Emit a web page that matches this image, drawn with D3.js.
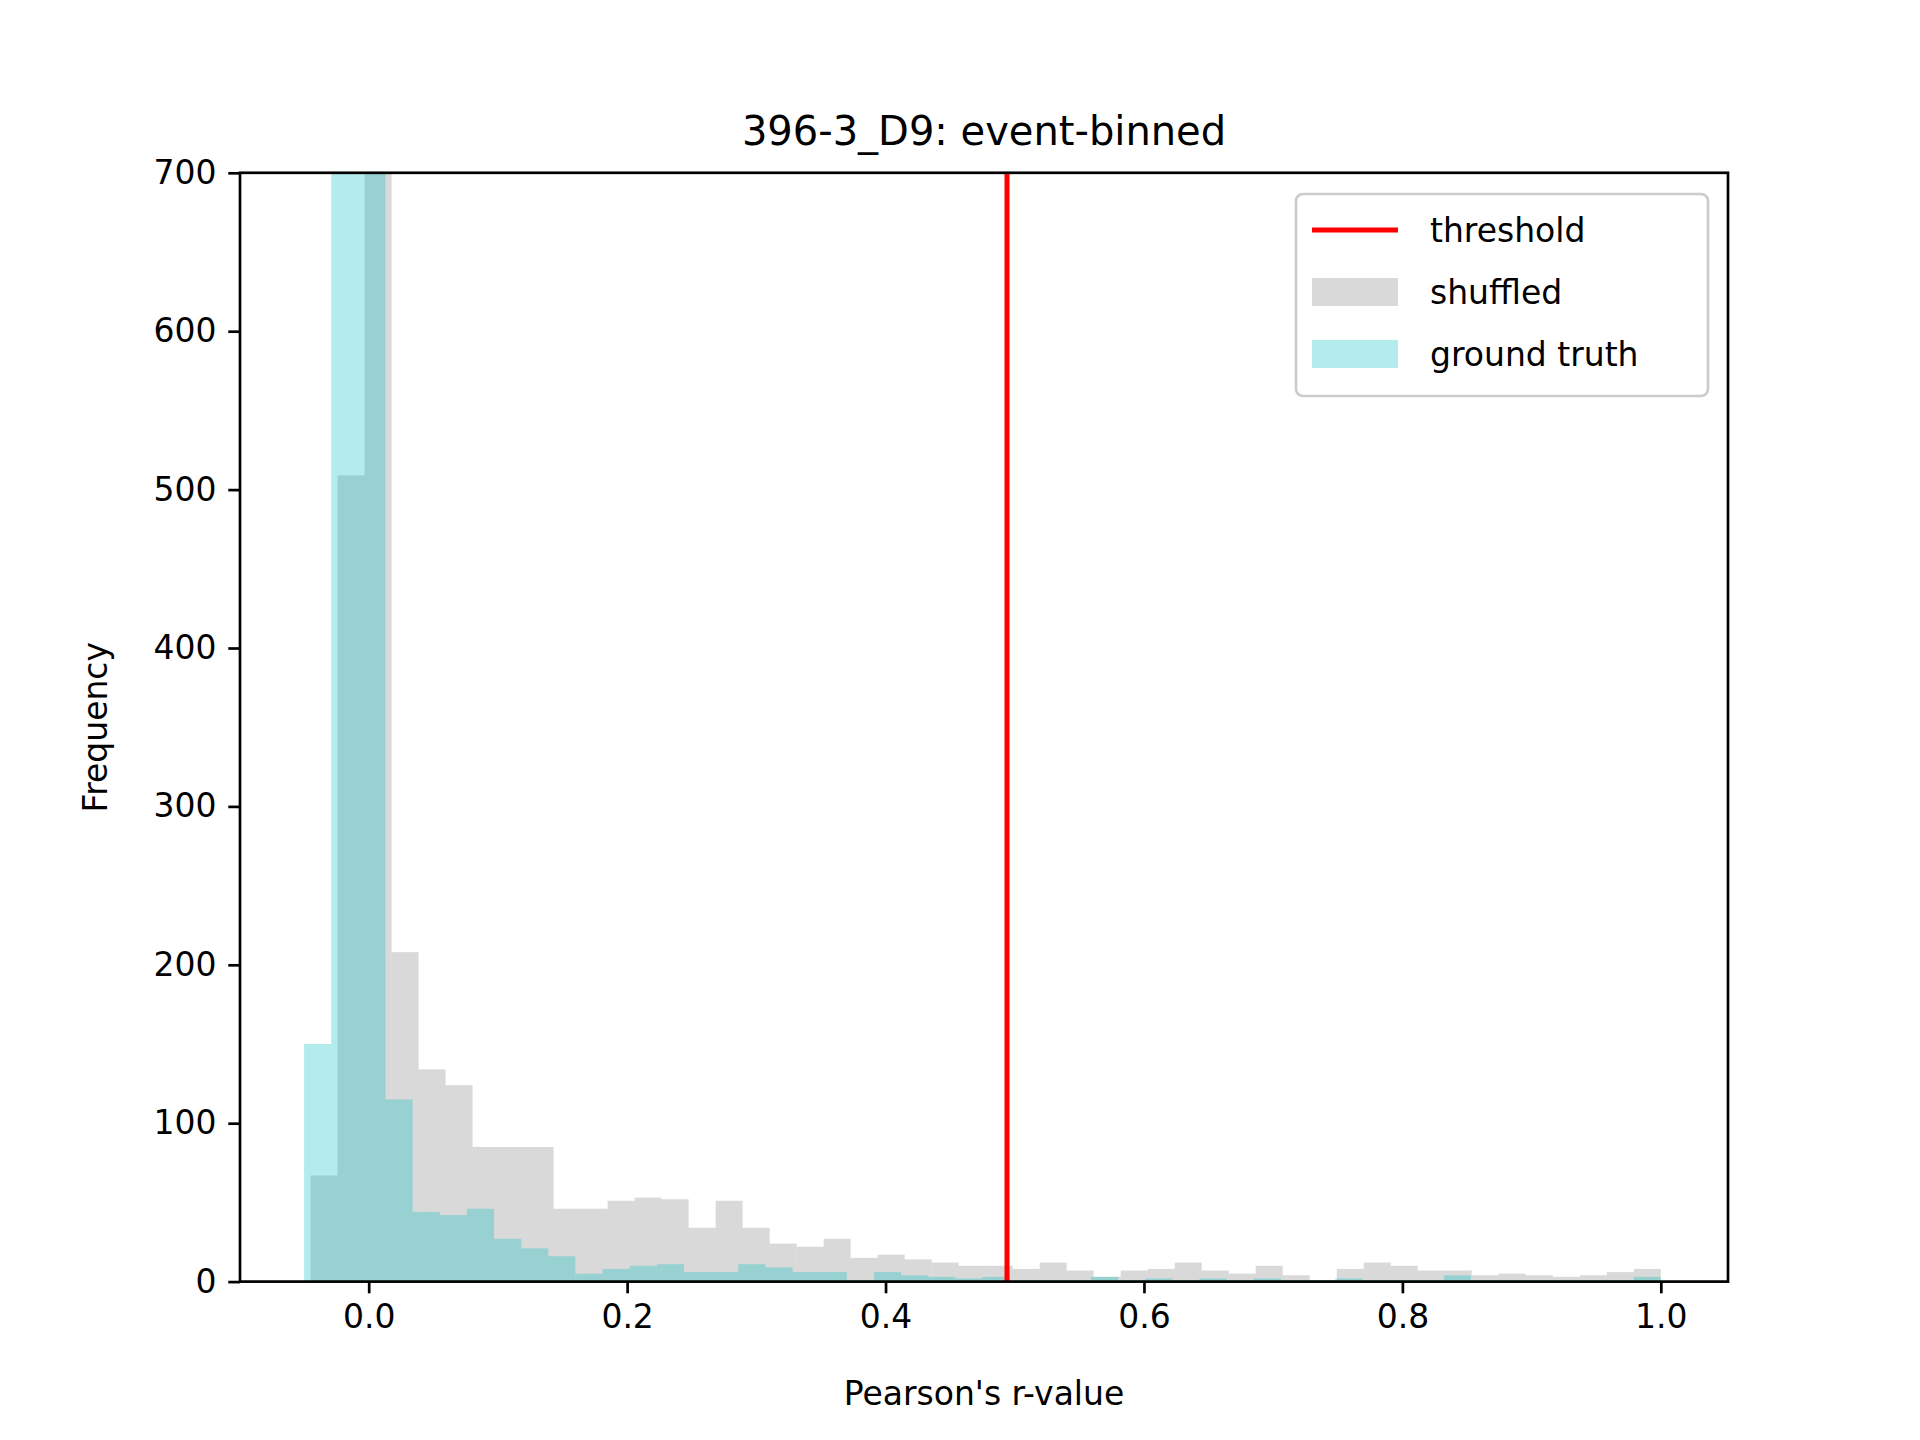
<!DOCTYPE html>
<html>
<head>
<meta charset="utf-8">
<script src="https://cdn.jsdelivr.net/npm/d3@7"></script>
<style>
  body { margin: 0; background: #fff; }
  text { font-family: "DejaVu Sans", sans-serif; fill: #000; }
</style>
</head>
<body>
<svg id="chart" width="1920" height="1440"></svg>
<script>
// histogram bins: start, width and counts per bin
var shuffledStart = -0.045, shuffledWidth = 0.0209;
var shuffledCounts = [67, 509, 1000, 208, 134, 124, 85, 85, 85, 46,
  46, 51, 53, 52, 34, 51, 34, 24, 22, 27,
  15, 17, 14, 12, 10, 10, 8, 12, 7, 3,
  7, 8, 12, 7, 5, 10, 4, 1, 8, 12,
  10, 7, 7, 4, 5, 4, 3, 4, 6, 8];
var truthStart = -0.05, truthWidth = 0.021;
var truthCounts = [150, 920, 780, 115, 44, 42, 46, 27, 21, 16,
  5, 8, 10, 11, 6, 6, 11, 9, 6, 6,
  1, 6, 4, 3, 2, 3, 1, 1, 1, 3,
  1, 2, 1, 2, 1, 2, 1, 1, 2, 1,
  1, 1, 4, 1, 1, 1, 1, 1, 1, 3];
var threshold = 0.494;
var xTicks = [0.0, 0.2, 0.4, 0.6, 0.8, 1.0];
var yTicks = [0, 100, 200, 300, 400, 500, 600, 700];

(function () {
  var pLeft = 240, pRight = 1728, pTop = 172.8, pBottom = 1281.6;
  var svg = d3.select('#chart');

  var x = d3.scaleLinear().domain([-0.0996, 1.052]).range([pLeft, pRight]);
  var y = d3.scaleLinear().domain([0, 700]).range([pBottom, pTop]);

  svg.append('clipPath').attr('id', 'plot')
    .append('rect').attr('x', pLeft).attr('y', pTop)
    .attr('width', pRight - pLeft).attr('height', pBottom - pTop);

  function bins(start, width, counts) {
    return counts.map(function (c, i) {
      return { x0: start + i * width, x1: start + (i + 1) * width, n: c };
    });
  }

  var g = svg.append('g').attr('clip-path', 'url(#plot)');

  // shuffled first, ground truth on top
  [[bins(shuffledStart, shuffledWidth, shuffledCounts), 'gray'],
   [bins(truthStart, truthWidth, truthCounts), '#00bfbf']].forEach(function (s) {
    g.append('g').selectAll('rect').data(s[0]).enter().append('rect')
      .attr('x', function (d) { return x(d.x0); })
      .attr('width', function (d) { return x(d.x1) - x(d.x0); })
      .attr('y', function (d) { return y(d.n); })
      .attr('height', function (d) { return y(0) - y(d.n); })
      .attr('fill', s[1])
      .attr('fill-opacity', 0.3);
  });

  g.append('line')
    .attr('x1', x(threshold)).attr('x2', x(threshold))
    .attr('y1', pTop).attr('y2', pBottom)
    .attr('stroke', 'red').attr('stroke-width', 5);

  // axes
  var xAxis = svg.append('g').attr('transform', 'translate(0,' + pBottom + ')')
    .call(d3.axisBottom(x).tickValues(xTicks).tickFormat(d3.format('.1f')).tickSizeInner(11.7).tickSizeOuter(0).tickPadding(11.7));
  var yAxis = svg.append('g').attr('transform', 'translate(' + pLeft + ',0)')
    .call(d3.axisLeft(y).tickValues(yTicks).tickSizeInner(11.7).tickSizeOuter(0).tickPadding(11.7));
  [xAxis, yAxis].forEach(function (a) {
    a.select('.domain').remove();
    a.selectAll('line').attr('stroke', '#000').attr('stroke-width', 2.7);
    a.selectAll('text').style('font-size', '33px').style('font-family', '"DejaVu Sans", sans-serif');
  });

  svg.append('rect').attr('x', pLeft).attr('y', pTop)
    .attr('width', pRight - pLeft).attr('height', pBottom - pTop)
    .attr('fill', 'none').attr('stroke', '#000').attr('stroke-width', 2.7);

  // titles
  svg.append('text').attr('x', (pLeft + pRight) / 2).attr('y', 145)
    .attr('text-anchor', 'middle').style('font-size', '40px').text('396-3_D9: event-binned');
  svg.append('text').attr('x', (pLeft + pRight) / 2).attr('y', 1405)
    .attr('text-anchor', 'middle').style('font-size', '33px').text("Pearson's r-value");
  svg.append('text').attr('transform', 'translate(107,' + (pTop + pBottom) / 2 + ') rotate(-90)')
    .attr('text-anchor', 'middle').style('font-size', '33px').text('Frequency');

  // legend
  var leg = svg.append('g');
  leg.append('rect').attr('x', 1296).attr('y', 194).attr('width', 412).attr('height', 202)
    .attr('rx', 7).attr('fill', '#fff').attr('fill-opacity', 0.8)
    .attr('stroke', '#ccc').attr('stroke-width', 2.7);
  var items = [
    { label: 'threshold', type: 'line', color: 'red' },
    { label: 'shuffled', type: 'patch', color: 'gray' },
    { label: 'ground truth', type: 'patch', color: '#00bfbf' }
  ];
  items.forEach(function (it, i) {
    var cy = 230 + i * 62;
    if (it.type === 'line') {
      leg.append('line').attr('x1', 1312).attr('x2', 1398).attr('y1', cy).attr('y2', cy)
        .attr('stroke', it.color).attr('stroke-width', 5);
    } else {
      leg.append('rect').attr('x', 1312).attr('y', cy - 14).attr('width', 86).attr('height', 28)
        .attr('fill', it.color).attr('fill-opacity', 0.3);
    }
    leg.append('text').attr('x', 1430).attr('y', cy + 12).style('font-size', '33px').text(it.label);
  });
})();
</script>
</body>
</html>
